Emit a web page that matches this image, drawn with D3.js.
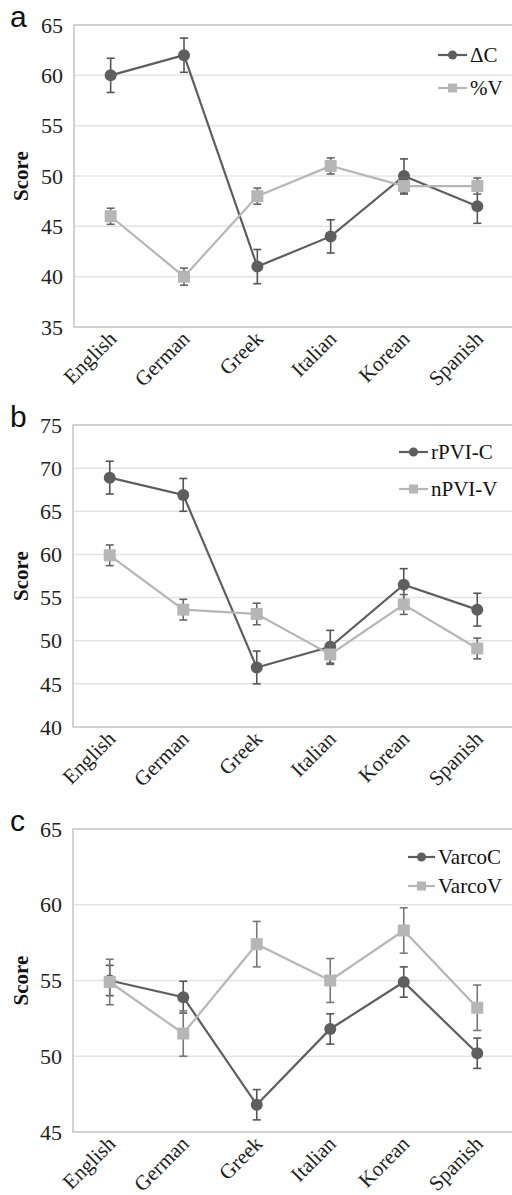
<!DOCTYPE html>
<meta charset="utf-8">
<style>
body { margin: 0; background: #fff; }
svg { display: block; }
.grid line { stroke: #e3e3e3; stroke-width: 1.5px; }
.frame { fill: none; stroke: #c4c4c4; stroke-width: 1.5px; }
.tick-label { font-family: "Liberation Serif", "DejaVu Serif", serif; font-size: 22px; fill: #222; }
.cat-label { font-family: "Liberation Serif", "DejaVu Serif", serif; font-size: 21px; fill: #222; }
.ylab { font-family: "Liberation Serif", "DejaVu Serif", serif; font-size: 21px; font-weight: bold; fill: #111; }
.panel-letter { font-family: "Liberation Sans", Arial, sans-serif; font-size: 30px; fill: #111; }
.legend text { font-family: "Liberation Serif", "DejaVu Serif", serif; font-size: 21px; fill: #111; }
</style>
<svg width="512" height="1195"></svg>
<script src="https://d3js.org/d3.v7.min.js"></script>
<script>

// languages on the x axis
var categories = ["English", "German", "Greek", "Italian", "Korean", "Spanish"];

// panel a
var deltaC = [60, 62, 41, 44, 50, 47];
var deltaCErr = [1.7, 1.7, 1.7, 1.65, 1.7, 1.7];
var percentV = [46, 40, 48, 51, 49, 49];
var percentVErr = [0.8, 0.85, 0.8, 0.8, 0.8, 0.8];
var ticksA = [35, 40, 45, 50, 55, 60, 65];

// panel b
var rPVIC = [68.9, 66.9, 46.9, 49.3, 56.5, 53.6];
var rPVICErr = [1.9, 1.9, 1.9, 1.9, 1.85, 1.9];
var nPVIV = [59.9, 53.6, 53.1, 48.4, 54.2, 49.1];
var nPVIVErr = [1.2, 1.2, 1.25, 1.15, 1.15, 1.2];
var ticksB = [40, 45, 50, 55, 60, 65, 70, 75];

// panel c
var varcoC = [55.0, 53.9, 46.8, 51.8, 54.9, 50.2];
var varcoCErr = [1.0, 1.05, 1.0, 1.0, 1.0, 1.0];
var varcoV = [54.9, 51.5, 57.4, 55.0, 58.3, 53.2];
var varcoVErr = [1.5, 1.5, 1.5, 1.45, 1.5, 1.5];
var ticksC = [45, 50, 55, 60, 65];

var dark = "#5e5e5e", light = "#b6b6b6";

var svg = d3.select("svg");

var panels = [
  { letter: "a", top: 25, bottom: 327, left: 74, ticks: ticksA,
    series: [
      { name: "\u0394C", values: deltaC, err: deltaCErr, color: dark, errColor: "#555", shape: "circle" },
      { name: "%V", values: percentV, err: percentVErr, color: light, errColor: "#666", shape: "square" }
    ],
    legend: { x1: 438, x2: 467, dy: [30, 63] } },
  { letter: "b", top: 425, bottom: 727, left: 73, ticks: ticksB,
    series: [
      { name: "rPVI-C", values: rPVIC, err: rPVICErr, color: dark, errColor: "#555", shape: "circle" },
      { name: "nPVI-V", values: nPVIV, err: nPVIVErr, color: light, errColor: "#666", shape: "square" }
    ],
    legend: { x1: 399, x2: 428, dy: [27, 64] } },
  { letter: "c", top: 829, bottom: 1132, left: 73, ticks: ticksC,
    series: [
      { name: "VarcoC", values: varcoC, err: varcoCErr, color: dark, errColor: "#555", shape: "circle" },
      { name: "VarcoV", values: varcoV, err: varcoVErr, color: light, errColor: "#777", shape: "square" }
    ],
    legend: { x1: 408, x2: 435, dy: [28, 57] } }
];

panels.forEach(drawPanel);

function drawPanel(p) {
  var right = 514;
  var x = d3.scaleBand().domain(categories).range([p.left, right]);
  var y = d3.scaleLinear()
      .domain([d3.min(p.ticks), d3.max(p.ticks)])
      .range([p.bottom, p.top]);
  var cx = function(c) { return x(c) + x.bandwidth() / 2; };

  var g = svg.append("g");

  // horizontal gridlines
  g.append("g").attr("class", "grid")
    .selectAll("line")
    .data(p.ticks.slice(1, -1))
    .enter().append("line")
    .attr("x1", p.left).attr("x2", right)
    .attr("y1", function(d) { return y(d); })
    .attr("y2", function(d) { return y(d); });

  g.append("rect").attr("class", "frame")
    .attr("x", p.left).attr("y", p.top)
    .attr("width", right - p.left).attr("height", p.bottom - p.top);

  // y tick labels
  g.append("g").selectAll("text")
    .data(p.ticks)
    .enter().append("text")
    .attr("class", "tick-label")
    .attr("x", p.left - 11)
    .attr("y", function(d) { return y(d); })
    .attr("dy", "0.35em")
    .attr("text-anchor", "end")
    .text(function(d) { return d; });

  // rotated category labels
  g.append("g").selectAll("text")
    .data(categories)
    .enter().append("text")
    .attr("class", "cat-label")
    .attr("text-anchor", "end")
    .attr("transform", function(d) {
      return "translate(" + (cx(d) + 7) + "," + (p.bottom + 13) + ") rotate(-45)";
    })
    .text(function(d) { return d; });

  // axis title
  g.append("text").attr("class", "ylab")
    .attr("text-anchor", "middle")
    .attr("transform", "translate(28," + ((p.top + p.bottom) / 2) + ") rotate(-90)")
    .text("Score");

  g.append("text").attr("class", "panel-letter")
    .attr("x", 10).attr("y", p.top + 2)
    .text(p.letter);

  var line = d3.line()
    .x(function(d, i) { return cx(categories[i]); })
    .y(function(d) { return y(d); });

  p.series.forEach(function(s) {
    var sg = g.append("g");
    sg.append("path")
      .attr("d", line(s.values))
      .attr("fill", "none")
      .attr("stroke", s.color)
      .attr("stroke-width", 2.2);

    // error bars
    var eb = sg.append("g").attr("stroke", s.errColor).attr("stroke-width", 1.6);
    s.values.forEach(function(v, i) {
      var xx = cx(categories[i]);
      var hi = y(v + s.err[i]), lo = y(v - s.err[i]);
      eb.append("line").attr("x1", xx).attr("x2", xx).attr("y1", hi).attr("y2", lo);
      eb.append("line").attr("x1", xx - 4).attr("x2", xx + 4).attr("y1", hi).attr("y2", hi);
      eb.append("line").attr("x1", xx - 4).attr("x2", xx + 4).attr("y1", lo).attr("y2", lo);
    });

    drawMarkers(sg, s, s.values.map(function(v, i) { return [cx(categories[i]), y(v)]; }), 6);
  });

  // legend
  var lg = g.append("g").attr("class", "legend");
  p.series.forEach(function(s, k) {
    var ly = p.top + p.legend.dy[k];
    lg.append("line")
      .attr("x1", p.legend.x1).attr("x2", p.legend.x2)
      .attr("y1", ly).attr("y2", ly)
      .attr("stroke", s.color).attr("stroke-width", 2.2);
    drawMarkers(lg, s, [[(p.legend.x1 + p.legend.x2) / 2, ly]], 4.5);
    lg.append("text")
      .attr("x", p.legend.x2 + 3)
      .attr("y", ly)
      .attr("dy", "0.35em")
      .text(s.name);
  });
}

function drawMarkers(sel, s, pts, r) {
  if (s.shape === "circle") {
    sel.selectAll(null).data(pts).enter().append("circle")
      .attr("cx", function(d) { return d[0]; })
      .attr("cy", function(d) { return d[1]; })
      .attr("r", r)
      .attr("fill", s.color);
  } else {
    sel.selectAll(null).data(pts).enter().append("rect")
      .attr("x", function(d) { return d[0] - r; })
      .attr("y", function(d) { return d[1] - r; })
      .attr("width", 2 * r).attr("height", 2 * r)
      .attr("fill", s.color);
  }
}

</script>
